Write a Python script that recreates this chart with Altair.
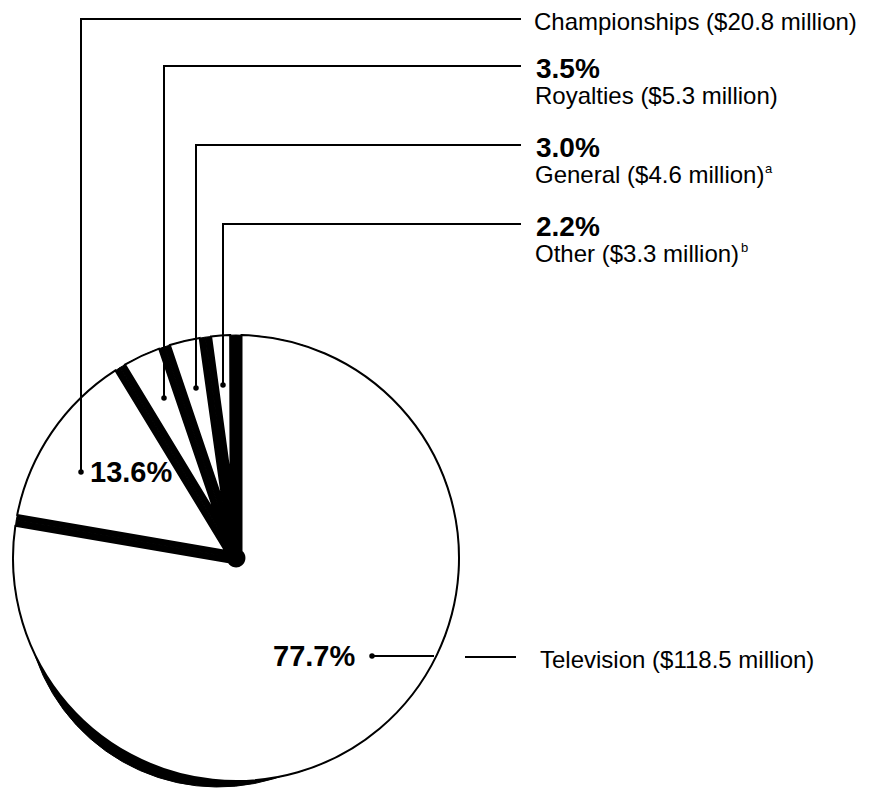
import math
import altair as alt
import pandas as pd

# ---- data ----
categories = ["Television", "Championships", "Royalties", "General", "Other"]
percents = [77.7, 13.6, 3.5, 3.0, 2.2]
amounts = [118.5, 20.8, 5.3, 4.6, 3.3]
footnotes = ["", "", "", "a", "b"]

df = pd.DataFrame({"category": categories, "pct": percents,
                   "order": list(range(len(categories)))})
one = pd.DataFrame({"k": [0]})

FONT = "Liberation Sans"
M = 8  # page margin


def px(v):
    return v - M


# ---- pie geometry (style/layout) ----
CX, CY = px(236), px(558)
R = 223
GAP = 11.0
PAD = GAP / R

theta = alt.Theta("start:Q", stack=False,
                  scale=alt.Scale(domain=[0, 100], range=[0, 2 * math.pi]))
theta2 = alt.Theta2("end:Q")

base = alt.Chart(df).transform_window(
    end="sum(pct)", sort=[alt.SortField("order")], frame=[None, 0]
).transform_calculate(start="datum.end - datum.pct")

layers = []

# shadow crescent under the big slice (lower-left rim)
layers.append(
    base.transform_filter(alt.datum.category == categories[0])
    .mark_arc(color="black", stroke="black", strokeWidth=1)
    .encode(theta=theta, theta2=theta2, radius=alt.value(R - 30),
            x=alt.value(CX - 18), y=alt.value(CY + 36))
)
# black body visible through the gaps
layers.append(
    base.mark_arc(color="black", stroke="black", strokeWidth=1)
    .encode(theta=theta, theta2=theta2, radius=alt.value(R),
            x=alt.value(CX), y=alt.value(CY))
)
# white faces with parallel gaps
for cat, p in zip(categories, percents):
    half = math.radians(p * 3.6) / 2
    r0 = 0.99 * (GAP / 2) / math.sin(half)
    layers.append(
        base.transform_filter(alt.datum.category == cat)
        .mark_arc(padAngle=PAD, fill="white", stroke="black", strokeWidth=2)
        .encode(theta=theta, theta2=theta2, radius=alt.value(R),
                radius2=alt.value(r0), x=alt.value(CX), y=alt.value(CY))
    )


def rule(x1, y1, x2, y2, w=2):
    return alt.Chart(one).mark_rule(color="black", strokeWidth=w, strokeCap="square").encode(
        x=alt.value(px(x1)), y=alt.value(px(y1)),
        x2=alt.value(px(x2)), y2=alt.value(px(y2)))


def dot(x, y):
    return alt.Chart(one).mark_circle(size=30, color="black", opacity=1).encode(
        x=alt.value(px(x)), y=alt.value(px(y)))


def text(s, x, y, size, bold=False):
    return alt.Chart(one).mark_text(
        text=s, font=FONT, fontSize=size, fontWeight="bold" if bold else "normal",
        align="left", baseline="alphabetic", color="black").encode(
        x=alt.value(px(x)), y=alt.value(px(y)))


def pct_text(p):
    return f"{p:.1f}%"


def amount_text(cat, amt):
    return f"{cat} (${amt} million)"


# ---- annotation layout ----
LINE_END = 520
LABEL_X = 534
# top-right callouts: (index, dot_x, dot_y, corner_y)
callouts = [(1, 81, 472, 19), (2, 164, 398, 66), (3, 196, 388, 145), (4, 223, 385, 224)]
for idx, dx_, dy_, cy_ in callouts:
    layers.append(rule(dx_, dy_, dx_, cy_))
    layers.append(rule(dx_, cy_, LINE_END, cy_))
    layers.append(dot(dx_, dy_))
    label = amount_text(categories[idx], amounts[idx])
    if idx == 1:
        layers.append(text(label, LABEL_X, cy_ + 11, 24))
    else:
        layers.append(text(pct_text(percents[idx]), LABEL_X + 2, cy_ + 12, 28, True))
        layers.append(text(label, LABEL_X + 1, cy_ + 38, 24))
        if footnotes[idx]:
            w = {3: 229, 4: 205}[idx]
            layers.append(text(footnotes[idx], LABEL_X + 1 + w + 1, cy_ + 28, 13))

# in-pie percentages
layers.append(text(pct_text(percents[1]), 90, 482, 29, True))
layers.append(text(pct_text(percents[0]), 273, 666, 29, True))

# television callout
layers.append(dot(372, 656))
layers.append(rule(372, 656, 433, 656))
layers.append(rule(466, 657, 515, 657))
layers.append(text(amount_text(categories[0], amounts[0]), 540, 668, 24))

chart = alt.layer(*layers).properties(
    width=855, height=790, padding=0, autosize="none"
).configure_view(stroke=None)

chart.save("out.html", embed_options={"renderer": "svg", "actions": False})
